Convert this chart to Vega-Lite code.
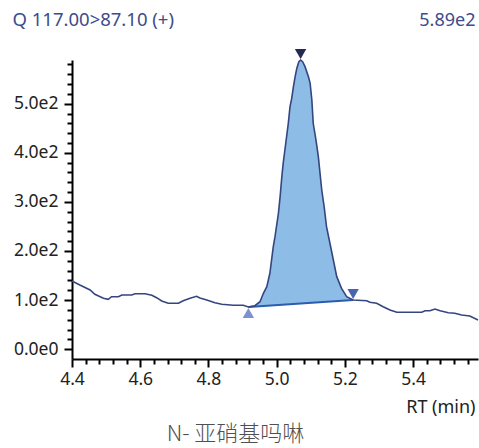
{
  "$schema": "https://vega.github.io/schema/vega-lite/v6.json",
  "width": 406,
  "height": 299,
  "autosize": {"type": "none"},
  "padding": {"left": 72, "top": 60, "right": 1, "bottom": 89},
  "background": "white",
  "config": {"view": {"stroke": null}, "font": "Noto Sans"},
  "datasets": {
    "trace": [
      {"t": 4.400, "v": 138.9}, {"t": 4.423, "v": 130.7}, {"t": 4.453, "v": 120.6}, {"t": 4.467, "v": 111.8},
      {"t": 4.492, "v": 103.7}, {"t": 4.506, "v": 101.6}, {"t": 4.516, "v": 106.9}, {"t": 4.536, "v": 106.9},
      {"t": 4.546, "v": 110.4}, {"t": 4.575, "v": 110.4}, {"t": 4.585, "v": 113.0}, {"t": 4.614, "v": 113.0},
      {"t": 4.634, "v": 109.8}, {"t": 4.648, "v": 104.9}, {"t": 4.663, "v": 98.2}, {"t": 4.682, "v": 93.5},
      {"t": 4.712, "v": 93.5}, {"t": 4.726, "v": 98.8}, {"t": 4.746, "v": 103.7}, {"t": 4.765, "v": 107.7},
      {"t": 4.775, "v": 104.3}, {"t": 4.795, "v": 100.2}, {"t": 4.819, "v": 94.7}, {"t": 4.839, "v": 91.4},
      {"t": 4.873, "v": 89.4}, {"t": 4.902, "v": 89.4},
      {"t": 4.917, "v": 85.9, "base": 85.9},
      {"t": 4.936, "v": 88.6, "base": 86.8},
      {"t": 4.951, "v": 96.7, "base": 87.5},
      {"t": 4.961, "v": 113.8, "base": 87.9},
      {"t": 4.971, "v": 127.3, "base": 88.4},
      {"t": 4.980, "v": 154.6, "base": 88.8},
      {"t": 4.985, "v": 181.7, "base": 89.1},
      {"t": 4.990, "v": 208.8, "base": 89.3},
      {"t": 4.995, "v": 229.1, "base": 89.5},
      {"t": 5.005, "v": 276.8, "base": 90.0},
      {"t": 5.010, "v": 310.6, "base": 90.2},
      {"t": 5.015, "v": 351.3, "base": 90.5},
      {"t": 5.019, "v": 378.6, "base": 90.6},
      {"t": 5.024, "v": 405.7, "base": 90.9},
      {"t": 5.029, "v": 432.8, "base": 91.1},
      {"t": 5.034, "v": 460.1, "base": 91.3},
      {"t": 5.039, "v": 493.9, "base": 91.6},
      {"t": 5.044, "v": 511.0, "base": 91.8},
      {"t": 5.049, "v": 534.6, "base": 92.0},
      {"t": 5.054, "v": 555.0, "base": 92.3},
      {"t": 5.059, "v": 572.1, "base": 92.5},
      {"t": 5.065, "v": 585.5, "base": 92.8},
      {"t": 5.070, "v": 589.0, "base": 93.0},
      {"t": 5.076, "v": 585.5, "base": 93.3},
      {"t": 5.083, "v": 575.4, "base": 93.6},
      {"t": 5.093, "v": 555.0, "base": 94.1},
      {"t": 5.098, "v": 541.5, "base": 94.3},
      {"t": 5.103, "v": 507.5, "base": 94.6},
      {"t": 5.107, "v": 460.1, "base": 94.7},
      {"t": 5.115, "v": 426.1, "base": 95.1},
      {"t": 5.122, "v": 392.1, "base": 95.4},
      {"t": 5.127, "v": 358.2, "base": 95.7},
      {"t": 5.132, "v": 324.2, "base": 95.9},
      {"t": 5.139, "v": 290.2, "base": 96.2},
      {"t": 5.146, "v": 249.5, "base": 96.6},
      {"t": 5.156, "v": 215.7, "base": 97.0},
      {"t": 5.166, "v": 181.7, "base": 97.5},
      {"t": 5.176, "v": 147.7, "base": 98.0},
      {"t": 5.190, "v": 124.0, "base": 98.6},
      {"t": 5.205, "v": 106.9, "base": 99.3},
      {"t": 5.224, "v": 100.2, "base": 100.2},
      {"t": 5.264, "v": 98.8}, {"t": 5.273, "v": 95.5}, {"t": 5.293, "v": 93.5}, {"t": 5.312, "v": 86.6},
      {"t": 5.332, "v": 79.8}, {"t": 5.352, "v": 75.2}, {"t": 5.425, "v": 75.2}, {"t": 5.435, "v": 78.4},
      {"t": 5.449, "v": 78.4}, {"t": 5.464, "v": 81.9}, {"t": 5.479, "v": 78.4}, {"t": 5.503, "v": 74.3},
      {"t": 5.522, "v": 73.1}, {"t": 5.542, "v": 69.7}, {"t": 5.566, "v": 67.6}, {"t": 5.590, "v": 59.5}
    ],
    "baseline": [{"t1": 4.917, "v1": 85.9, "t2": 5.224, "v2": 100.2}],
    "markers": [
      {"t": 5.070, "v": 589.0, "kind": "apex"},
      {"t": 4.917, "v": 85.9, "kind": "start"},
      {"t": 5.224, "v": 100.2, "kind": "end"}
    ]
  },
  "resolve": {"axis": {"x": "independent", "y": "independent"}},
  "layer": [
    {
      "data": {"name": "trace"},
      "transform": [{"filter": "isValid(datum.base)"}],
      "mark": {"type": "area", "color": "#8dbde6", "opacity": 1},
      "encoding": {
        "x": {
          "field": "t", "type": "quantitative",
          "scale": {"domain": [4.4, 5.59], "nice": false, "zero": false},
          "axis": {
            "orient": "bottom",
            "values": [4.4, 4.44, 4.48, 4.52, 4.56, 4.6, 4.64, 4.68, 4.72, 4.76, 4.8, 4.84, 4.88, 4.92, 4.96, 5.0, 5.04, 5.08, 5.12, 5.16, 5.2, 5.24, 5.28, 5.32, 5.36, 5.4, 5.44, 5.48, 5.52, 5.56],
            "labelExpr": "abs(round(datum.value*100) % 20) < 1 ? format(datum.value, '.1f') : ''",
            "tickSize": {"condition": {"test": "abs(round(datum.value*100) % 20) < 1", "value": 8}, "value": 5},
            "tickWidth": 2, "tickColor": "#000", "domainColor": "#000", "domainWidth": 2,
            "grid": false,
            "labelFontSize": 17.5, "labelColor": "#222", "labelPadding": 3, "labelFont": "Noto Sans",
            "labelOverlap": false, "labelBound": false, "labelFlush": false,
            "title": "RT (min)", "titleFont": "Noto Sans", "titleFontWeight": "normal", "titleFontSize": 18,
            "titleColor": "#222", "titleAlign": "right", "titleAnchor": "end", "titleBaseline": "alphabetic",
            "titleAngle": 0, "titleX": 403, "titleY": 53
          }
        },
        "y": {
          "field": "v", "type": "quantitative",
          "scale": {"domain": [-20, 589], "nice": false, "zero": false},
          "axis": {
            "orient": "left",
            "values": [0, 20, 40, 60, 80, 100, 120, 140, 160, 180, 200, 220, 240, 260, 280, 300, 320, 340, 360, 380, 400, 420, 440, 460, 480, 500, 520, 540, 560, 580],
            "labelExpr": "datum.value % 100 === 0 ? (datum.value === 0 ? '0.0e0' : format(datum.value/100, '.1f') + 'e2') : ''",
            "tickSize": {"condition": {"test": "datum.value % 100 === 0", "value": 8}, "value": 5},
            "tickWidth": 2, "tickColor": "#000", "domainColor": "#000", "domainWidth": 2,
            "grid": false,
            "labelFontSize": 17.5, "labelColor": "#222", "labelPadding": 6, "labelFont": "Noto Sans",
            "labelOverlap": false, "labelBound": false, "labelFlush": false,
            "title": "Q 117.00>87.10 (+)", "titleFont": "Noto Sans", "titleFontWeight": "normal", "titleFontSize": 18.5,
            "titleColor": "#3c4c8c", "titleAlign": "left", "titleBaseline": "alphabetic", "titleAngle": 0,
            "titleX": -60, "titleY": -35
          }
        },
        "y2": {"field": "base"}
      }
    },
    {
      "data": {"name": "baseline"},
      "mark": {"type": "rule", "color": "#2a5cb0", "strokeWidth": 1.8},
      "encoding": {
        "x": {"field": "t1", "type": "quantitative", "axis": null},
        "y": {"field": "v1", "type": "quantitative", "axis": null},
        "x2": {"field": "t2"},
        "y2": {"field": "v2"}
      }
    },
    {
      "data": {"name": "trace"},
      "mark": {"type": "line", "color": "#35457f", "strokeWidth": 1.6, "interpolate": "linear"},
      "encoding": {
        "x": {
          "field": "t", "type": "quantitative",
          "axis": {
            "orient": "top", "domain": false, "ticks": false, "labels": false, "grid": false,
            "title": "5.89e2", "titleFont": "Noto Sans", "titleFontWeight": "normal", "titleFontSize": 18,
            "titleColor": "#3c4c8c", "titleAlign": "right", "titleBaseline": "alphabetic", "titleAngle": 0,
            "titleX": 403, "titleY": -35
          }
        },
        "y": {
          "field": "v", "type": "quantitative",
          "axis": {
            "orient": "right", "domain": false, "ticks": false, "labels": false, "grid": false,
            "title": "N- 亚硝基吗啉", "titleFont": "Noto Sans CJK SC", "titleFontWeight": 300, "titleFontSize": 22,
            "titleColor": "#505050", "titleAlign": "center", "titleBaseline": "middle", "titleAngle": 0,
            "titleX": -243, "titleY": 373
          }
        }
      }
    },
    {
      "data": {"name": "markers"},
      "transform": [{"filter": "datum.kind === 'apex'"}],
      "mark": {"type": "point", "shape": "triangle-down", "filled": true, "size": 130, "color": "#252850", "opacity": 1, "yOffset": -6},
      "encoding": {
        "x": {"field": "t", "type": "quantitative", "axis": null},
        "y": {"field": "v", "type": "quantitative", "axis": null}
      }
    },
    {
      "data": {"name": "markers"},
      "transform": [{"filter": "datum.kind === 'start'"}],
      "mark": {"type": "point", "shape": "triangle-up", "filled": true, "size": 130, "color": "#7d90cf", "opacity": 1, "yOffset": 6},
      "encoding": {
        "x": {"field": "t", "type": "quantitative", "axis": null},
        "y": {"field": "v", "type": "quantitative", "axis": null}
      }
    },
    {
      "data": {"name": "markers"},
      "transform": [{"filter": "datum.kind === 'end'"}],
      "mark": {"type": "point", "shape": "triangle-down", "filled": true, "size": 130, "color": "#4a64b5", "opacity": 1, "yOffset": -6},
      "encoding": {
        "x": {"field": "t", "type": "quantitative", "axis": null},
        "y": {"field": "v", "type": "quantitative", "axis": null}
      }
    }
  ]
}
